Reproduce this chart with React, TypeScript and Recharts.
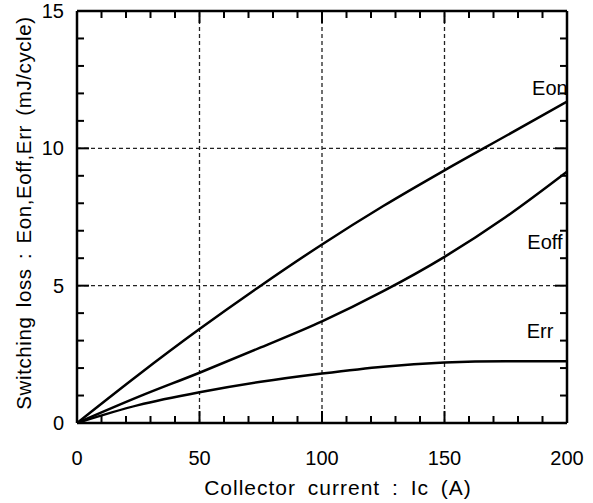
import { LineChart, Line, XAxis, YAxis, ReferenceLine, ReferenceDot, Label } from "recharts";

// Collector current (A)
const current = [0, 25, 50, 75, 100, 125, 150, 175, 200];
// switching losses (mJ/cycle)
const eon = [0, 1.75, 3.42, 5.0, 6.5, 7.9, 9.2, 10.45, 11.7];
const eoff = [0, 0.95, 1.83, 2.75, 3.7, 4.8, 6.05, 7.5, 9.15];
const err = [0, 0.65, 1.12, 1.5, 1.8, 2.05, 2.2, 2.25, 2.25];

const xTicks = [0, 10, 20, 30, 40, 50, 60, 70, 80, 90, 100, 110, 120, 130, 140, 150, 160, 170, 180, 190, 200];
const xLabels = [0, 50, 100, 150, 200];
const yTicks = [0, 1, 2, 3, 4, 5, 6, 7, 8, 9, 10, 11, 12, 13, 14, 15];
const yLabels = [0, 5, 10, 15];
const gridX = [50, 100, 150];
const gridY = [5, 10];

const curveNames = [
  { name: "Eon", x: 193, y: 12.2 },
  { name: "Eoff", x: 191, y: 6.6 },
  { name: "Err", x: 189, y: 3.35 },
];

const data = current.map((x, i) => ({ x, eon: eon[i], eoff: eoff[i], err: err[i] }));

const FONT = "'Liberation Sans', Arial, sans-serif";

// ticks point inward, majors (labelled) are longer
const renderBottomTick = (p: any) => {
  const { x, y, payload } = p;
  const major = xLabels.includes(payload.value);
  const len = major ? 12 : 7;
  return (
    <g key={"b" + payload.value}>
      <path d={`M${x},${y}V${y - len}`} stroke="#000" strokeWidth={2} fill="none" />
      {major && (
        <text x={x} y={y + 42} textAnchor="middle" fontSize={20} fontFamily={FONT} fill="#000">
          {payload.value}
        </text>
      )}
    </g>
  );
};

const renderTopTick = (p: any) => {
  const { x, y, payload } = p;
  const len = xLabels.includes(payload.value) ? 12 : 7;
  return <path key={"t" + payload.value} d={`M${x},${y}V${y + len}`} stroke="#000" strokeWidth={2} fill="none" />;
};

const renderLeftTick = (p: any) => {
  const { x, y, payload } = p;
  const major = yLabels.includes(payload.value);
  const len = major ? 12 : 7;
  return (
    <g key={"l" + payload.value}>
      <path d={`M${x},${y}H${x + len}`} stroke="#000" strokeWidth={2} fill="none" />
      {major && (
        <text x={x - 13} y={y + 7} textAnchor="end" fontSize={20} fontFamily={FONT} fill="#000">
          {payload.value}
        </text>
      )}
    </g>
  );
};

const renderRightTick = (p: any) => {
  const { x, y, payload } = p;
  const len = yLabels.includes(payload.value) ? 12 : 7;
  return <path key={"r" + payload.value} d={`M${x},${y}H${x - len}`} stroke="#000" strokeWidth={2} fill="none" />;
};

export default function App() {
  return (
    <div style={{ position: "absolute", left: 0, top: 0, background: "#fff" }}>
      <LineChart width={593} height={503} data={data} margin={{ top: 0, right: 0, bottom: 0, left: 0 }}>
        {gridX.map((v) => (
          <ReferenceLine key={"gx" + v} x={v} stroke="#222" strokeWidth={1.3} strokeDasharray="4 3" />
        ))}
        {gridY.map((v) => (
          <ReferenceLine key={"gy" + v} y={v} stroke="#222" strokeWidth={1.3} strokeDasharray="4 3" />
        ))}

        <XAxis
          dataKey="x"
          type="number"
          domain={[0, 200]}
          allowDataOverflow
          ticks={xTicks}
          interval={0}
          height={80}
          tickSize={0}
          tickMargin={0}
          tickLine={false}
          axisLine={{ stroke: "#000", strokeWidth: 2.5 }}
          tick={renderBottomTick}
        >
          <Label
            content={({ viewBox }: any) => (
              <text
                x={viewBox.x + viewBox.width / 2 + 16}
                y={viewBox.y + 72}
                textAnchor="middle"
                fontSize={21}
                fontFamily={FONT}
                letterSpacing={1}
                wordSpacing={5}
                fill="#000"
              >
                Collector current : Ic  (A)
              </text>
            )}
          />
        </XAxis>
        <XAxis
          xAxisId="top"
          dataKey="x"
          orientation="top"
          type="number"
          domain={[0, 200]}
          allowDataOverflow
          ticks={xTicks}
          interval={0}
          height={11}
          tickSize={0}
          tickMargin={0}
          tickLine={false}
          axisLine={{ stroke: "#000", strokeWidth: 2.5 }}
          tick={renderTopTick}
        />
        <YAxis
          type="number"
          domain={[0, 15]}
          allowDataOverflow
          ticks={yTicks}
          interval={0}
          width={77}
          tickSize={0}
          tickMargin={0}
          tickLine={false}
          axisLine={{ stroke: "#000", strokeWidth: 2.5 }}
          tick={renderLeftTick}
        >
          <Label
            content={({ viewBox }: any) => {
              const cx = 31;
              const cy = viewBox.y + viewBox.height / 2 - 4;
              return (
                <text
                  x={cx}
                  y={cy}
                  transform={`rotate(-90 ${cx} ${cy})`}
                  textAnchor="middle"
                  fontSize={20.5}
                  fontFamily={FONT}
                  letterSpacing={0.6}
                  wordSpacing={3}
                  fill="#000"
                >
                  Switching loss : Eon,Eoff,Err  (mJ/cycle)
                </text>
              );
            }}
          />
        </YAxis>
        <YAxis
          yAxisId="right"
          orientation="right"
          type="number"
          domain={[0, 15]}
          allowDataOverflow
          ticks={yTicks}
          interval={0}
          width={26}
          tickSize={0}
          tickMargin={0}
          tickLine={false}
          axisLine={{ stroke: "#000", strokeWidth: 2.5 }}
          tick={renderRightTick}
        />

        {/* invisible series so the mirrored frame axes get a proper scale */}
        <Line
          xAxisId="top"
          yAxisId="right"
          dataKey="eon"
          stroke="none"
          dot={false}
          activeDot={false}
          legendType="none"
          isAnimationActive={false}
        />

        <Line type="monotone" dataKey="eon" stroke="#000" strokeWidth={2.5} dot={false} isAnimationActive={false} />
        <Line type="monotone" dataKey="eoff" stroke="#000" strokeWidth={2.5} dot={false} isAnimationActive={false} />
        <Line type="monotone" dataKey="err" stroke="#000" strokeWidth={2.5} dot={false} isAnimationActive={false} />

        {curveNames.map((c) => (
          <ReferenceDot
            key={c.name}
            x={c.x}
            y={c.y}
            r={0}
            fill="none"
            stroke="none"
            label={{ value: c.name, position: "center", fontSize: 20, fontFamily: FONT, fill: "#000" }}
          />
        ))}
      </LineChart>
    </div>
  );
}
